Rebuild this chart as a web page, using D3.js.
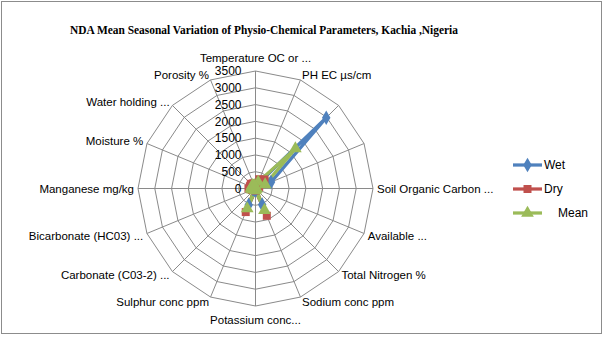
<!DOCTYPE html>
<html>
<head>
<meta charset="utf-8">
<script src="https://cdn.jsdelivr.net/npm/d3@7/dist/d3.min.js"></script>
<style>
  html, body { margin: 0; padding: 0; background: #fff; }
  svg { display: block; }
</style>
</head>
<body>
<svg id="chart" width="609" height="337"></svg>
<script>
// Parameter names around the radar (blank entries are spokes whose label is suppressed)
const categories = [
  "Temperature  OC or ...",
  "PH EC \u00b5s/cm",
  "",
  "",
  "Soil Organic Carbon ...",
  "Available ...",
  "Total Nitrogen %",
  "Sodium conc  ppm",
  "Potassium  conc...",
  "Sulphur conc ppm",
  "Carbonate  (C03-2) ...",
  "Bicarbonate  (HC03) ...",
  "Manganese  mg/kg",
  "Moisture  %",
  "Water holding ...",
  "Porosity  %"
];

// Seasonal values per parameter
const wetValues  = [30, 120, 2980, 500, 30, 20, 10, 520, 60, 530, 40, 80, 60, 50, 60, 40];
const dryValues  = [35, 300, 380, 120, 20, 25, 10, 880, 60, 760, 40, 120, 210, 180, 200, 170];
const meanValues = [32, 210, 1680, 310, 25, 22, 10, 700, 60, 645, 40, 100, 135, 115, 130, 105];

const tickValues = [0, 500, 1000, 1500, 2000, 2500, 3000, 3500];

const seriesNames  = ["Wet", "Dry", "Mean"];
const seriesColors = ["#4F81BD", "#C0504D", "#9BBB59"];
const seriesData   = [wetValues, dryValues, meanValues];

const svg = d3.select("#chart");

// outer frame
svg.append("rect")
  .attr("x", 1.5).attr("y", 1.5)
  .attr("width", 600).attr("height", 332)
  .attr("fill", "#fff").attr("stroke", "#8c8c8c").attr("stroke-width", 1);

// title
svg.append("text")
  .attr("x", 264).attr("y", 34)
  .attr("text-anchor", "middle")
  .attr("font-family", "'Liberation Serif', 'Times New Roman', serif")
  .attr("font-weight", "bold")
  .attr("font-size", 12.5)
  .attr("textLength", 388)
  .attr("lengthAdjust", "spacingAndGlyphs")
  .attr("fill", "#000")
  .text("NDA  Mean Seasonal Variation of Physio-Chemical Parameters, Kachia ,Nigeria");

const cx = 255.5, cy = 188.5, R = 117.5;
const n = categories.length;
const angle = d3.scaleLinear().domain([0, n]).range([0, 2 * Math.PI]);
const r = d3.scaleLinear().domain([0, 3500]).range([0, R]);

const px = (i, v) => cx + r(v) * Math.sin(angle(i));
const py = (i, v) => cy - r(v) * Math.cos(angle(i));

const grid = svg.append("g").attr("stroke", "#8a8a8a").attr("stroke-width", 1).attr("fill", "none");

// concentric polygon rings
tickValues.slice(1).forEach(t => {
  const pts = d3.range(n).map(i => [px(i, t), py(i, t)]);
  grid.append("path").attr("d", d3.line().curve(d3.curveLinearClosed)(pts));
});
// spokes
d3.range(n).forEach(i => {
  grid.append("line")
    .attr("x1", cx).attr("y1", cy)
    .attr("x2", px(i, 3500)).attr("y2", py(i, 3500));
});

// value ticks along the top spoke
svg.append("g").selectAll("text").data(tickValues).join("text")
  .attr("x", cx - 14)
  .attr("y", d => cy - r(d))
  .attr("dy", "0.36em")
  .attr("text-anchor", "end")
  .attr("font-family", "'Liberation Sans', Arial, sans-serif")
  .attr("font-size", 12)
  .attr("fill", "#000")
  .text(d => d);

// category labels around the outside
svg.append("g").selectAll("text").data(categories).join("text")
  .each(function (d, i) {
    const a = angle(i);
    const s = Math.sin(a), c = Math.cos(a);
    let x = px(i, 3500) + s * 4;
    let y = py(i, 3500);
    let anchor;
    if (Math.abs(s) < 0.1) {
      anchor = "middle";
      y += c > 0 ? -13.5 : 13.5;
    } else {
      anchor = s > 0 ? "start" : "end";
      y += -c * 5.5;
    }
    d3.select(this).attr("x", x).attr("y", y).attr("dy", "0.35em").attr("text-anchor", anchor);
  })
  .attr("font-family", "'Liberation Sans', Arial, sans-serif")
  .attr("font-size", 11.5)
  .attr("fill", "#000")
  .text(d => d);

// series lines
const line = d3.line().curve(d3.curveLinearClosed);
const plot = svg.append("g");
seriesData.forEach((vals, k) => {
  const pts = vals.map((v, i) => [px(i, v), py(i, v)]);
  plot.append("path")
    .attr("d", line(pts))
    .attr("fill", "none")
    .attr("stroke", seriesColors[k])
    .attr("stroke-width", 3.25)
    .attr("stroke-linejoin", "round");
});

// series markers
const markerSymbols = [d3.symbolDiamond, d3.symbolSquare, d3.symbolTriangle];
const markerSizes = [62, 64, 70];
seriesData.forEach((vals, k) => {
  plot.append("g").selectAll("path").data(vals).join("path")
    .attr("transform", (v, i) => `translate(${px(i, v)},${py(i, v)})`)
    .attr("d", d3.symbol().type(markerSymbols[k]).size(markerSizes[k]))
    .attr("fill", seriesColors[k]);
});

// legend
const legend = svg.append("g");
const legendY = [165, 189, 213];
const legendTextX = [544, 544, 558];
seriesNames.forEach((name, k) => {
  legend.append("line")
    .attr("x1", 513).attr("x2", 542)
    .attr("y1", legendY[k]).attr("y2", legendY[k])
    .attr("stroke", seriesColors[k]).attr("stroke-width", 3.25);
  legend.append("path")
    .attr("transform", `translate(527.5,${legendY[k]})`)
    .attr("d", d3.symbol().type(markerSymbols[k]).size(markerSizes[k]))
    .attr("fill", seriesColors[k]);
  legend.append("text")
    .attr("x", legendTextX[k]).attr("y", legendY[k])
    .attr("dy", "0.35em")
    .attr("font-family", "'Liberation Sans', Arial, sans-serif")
    .attr("font-size", 12)
    .attr("fill", "#000")
    .text(name);
});
</script>
</body>
</html>
